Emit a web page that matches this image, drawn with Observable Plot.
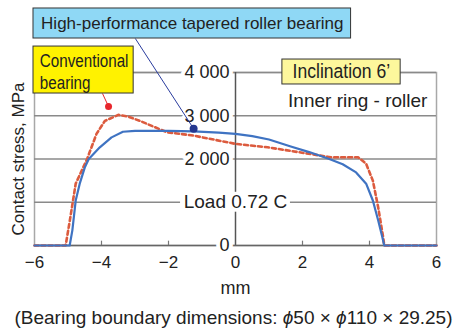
<!DOCTYPE html>
<html>
<head>
<meta charset="utf-8">
<script src="https://cdn.jsdelivr.net/npm/d3@7"></script>
<script src="https://cdn.jsdelivr.net/npm/@observablehq/plot@0.6"></script>
<style>
  html, body { margin: 0; padding: 0; background: #fff; }
  #chart { width: 455px; }
  #caption { width: 455px; height: 29px; line-height: 26px; text-align: center; white-space: nowrap;
    font-family: "Liberation Sans", Arial, sans-serif; font-size: 19px; color: #222; padding-left: 12px; box-sizing: border-box; }
</style>
</head>
<body>
<div id="chart"></div>
<div id="caption">(Bearing boundary dimensions: <i>ϕ</i>50 × <i>ϕ</i>110 × 29.25)</div>
<script>
// Series: High-performance tapered roller bearing (mm, MPa)
const hpX = [-6, -4.95, -4.87, -4.77, -4.65, -4.5, -4.38, -4.05, -3.7, -3.36, -3.0, -2.0, -1.25, -0.5, 0, 0.5, 1.0, 1.65, 2.2, 2.8, 3.2, 3.6, 3.9, 4.1, 4.26, 4.38, 4.44, 6];
const hpY = [0, 0, 350, 1040, 1430, 1800, 2000, 2270, 2500, 2630, 2650, 2650, 2640, 2610, 2580, 2530, 2450, 2290, 2160, 2000, 1880, 1690, 1430, 1040, 580, 200, 0, 0];
// Series: Conventional bearing
const cvX = [-6, -5.07, -4.93, -4.77, -4.43, -4.15, -3.9, -3.5, -3.2, -2.85, -2.05, -1.25, 0, 0.96, 1.95, 2.85, 3.66, 3.9, 4.1, 4.26, 4.41, 4.44, 6];
const cvY = [0, 0, 650, 1430, 2000, 2580, 2880, 3020, 2980, 2880, 2620, 2540, 2350, 2270, 2150, 2040, 2040, 1890, 1500, 880, 180, 0, 0];

const xTicks = [-6, -4, -2, 0, 2, 4, 6];
const minorTicks = [-4, -2, 2, 4];
const gridTicks = [1000, 2000, 3000, 4000];
// the 1 000 label is hidden behind the load label in the reference
const yTicks = [0, 2000, 3000, 4000];
const yTickLabels = ["0", "2 000", "3 000", "4 000"];

const hp = hpX.map((x, i) => ({x, y: hpY[i]}));
const cv = cvX.map((x, i) => ({x, y: cvY[i]}));
const yLab = yTicks.map((y, i) => ({y, label: yTickLabels[i]}));

// Annotations (in data units)
const blueBox = {x1: -6.03, x2: 3.45, y1: 4786, y2: 5480, cx: -1.29, cy: 5133, text: "High-performance tapered roller bearing"};
const blueLeader = {x1: -2.99, y1: 4786, x2: -1.25, y2: 2700};
const yellowBox = {x1: -6.03, x2: -3.04, y1: 3514, y2: 4600, tx: -5.84, ty: 4040, text: "Conventional\nbearing"};
const redLeader = {x1: -3.97, y1: 3514, x2: -3.79, y2: 3214};
const inclBox = {x1: 1.40, x2: 4.93, y1: 3723, y2: 4300, cx: 3.16, cy: 4010, text: "Inclination 6\u2019"};
const innerLabel = {x: 5.73, y: 3353, text: "Inner ring - roller"};
const loadBox = {x1: -1.64, x2: 1.64, y1: 770, y2: 1230, cx: 0, cy: 1000, text: "Load 0.72 C"};

const font = "'Liberation Sans', Arial, Helvetica, sans-serif";

const chart = Plot.plot({
  width: 455,
  height: 305,
  marginLeft: 34,
  marginRight: 19,
  marginTop: 72,
  marginBottom: 60,
  style: {fontFamily: font, fontSize: "15px", color: "#222", background: "white", overflow: "visible"},
  x: {domain: [-6, 6]},
  y: {domain: [0, 4000]},
  marks: [
    Plot.frame({stroke: "#a8a8a8", strokeWidth: 1.5}),
    Plot.ruleY(gridTicks, {stroke: "#8a8a8a", strokeWidth: 1.5}),
    Plot.ruleX([0], {y1: 0, y2: 4000, stroke: "#555", strokeWidth: 1.5}),
    Plot.ruleY([0], {stroke: "#666", strokeWidth: 1.5}),
    Plot.ruleX(minorTicks, {y1: 0, y2: 100, stroke: "#777", strokeWidth: 1.2}),
    Plot.axisX({ticks: xTicks, tickSize: 0, tickPadding: 10, fontSize: 17, label: null, tickFormat: d => d < 0 ? "\u2212" + Math.abs(d) : String(d)}),
    Plot.axisY({ticks: [], label: null, tickSize: 0}),
    Plot.text(yLab, {x: 0, y: "y", text: "label", textAnchor: "end", dx: -6, fontSize: 18, fill: "#222", stroke: "white", strokeWidth: 8}),
    Plot.line(cv, {x: "x", y: "y", stroke: "#dc5b3e", strokeWidth: 2.6, strokeDasharray: "4,3"}),
    Plot.line(hp, {x: "x", y: "y", stroke: "#3f73c2", strokeWidth: 2.2}),
    // Load label
    Plot.rect([loadBox], {x1: "x1", x2: "x2", y1: "y1", y2: "y2", fill: "white"}),
    Plot.text([loadBox], {x: "cx", y: "cy", text: "text", fontSize: 19, fill: "#222"}),
    // Inner ring label
    Plot.text([innerLabel], {x: "x", y: "y", text: "text", textAnchor: "end", fontSize: 19, fill: "#222"}),
    // Inclination box
    Plot.rect([inclBox], {x1: "x1", x2: "x2", y1: "y1", y2: "y2", fill: "#fdf79c", stroke: "#333", strokeWidth: 1}),
    Plot.text([inclBox], {x: "cx", y: "cy", text: "text", fontSize: 19.5, fill: "#222", className: "semicondensed"}),
    // Leaders
    Plot.link([blueLeader], {x1: "x1", y1: "y1", x2: "x2", y2: "y2", stroke: "#2a3c9e", strokeWidth: 1}),
    Plot.dot([blueLeader], {x: "x2", y: "y2", r: 4, fill: "#24378f"}),
    Plot.link([redLeader], {x1: "x1", y1: "y1", x2: "x2", y2: "y2", stroke: "#e8262c", strokeWidth: 1}),
    Plot.dot([redLeader], {x: "x2", y: "y2", r: 3.5, fill: "#e8262c"}),
    // Blue box
    Plot.rect([blueBox], {x1: "x1", x2: "x2", y1: "y1", y2: "y2", fill: "#8fd8f5", stroke: "#333", strokeWidth: 1}),
    Plot.text([blueBox], {x: "cx", y: "cy", text: "text", fontSize: 17, fill: "#222"}),
    // Yellow box
    Plot.rect([yellowBox], {x1: "x1", x2: "x2", y1: "y1", y2: "y2", fill: "#fff200", stroke: "#333", strokeWidth: 1}),
    Plot.text([yellowBox], {x: "tx", y: "ty", text: "text", textAnchor: "start", fontSize: 19, lineHeight: 1.17, fill: "#222", className: "condensed"}),
    // Axis titles
    Plot.text(["Contact stress, MPa"], {text: d => d, frameAnchor: "left", textAnchor: "middle", rotate: -90, dx: -16, fontSize: 17, fill: "#222"}),
    Plot.text(["mm"], {text: d => d, frameAnchor: "bottom", textAnchor: "middle", dy: 48, fontSize: 18, fill: "#222"})
  ]
});
// Narrower lettering for the two yellow labels, as in the reference
const squeeze = (sel, k) => d3.select(chart).selectAll(sel + " text").each(function() {
  const t = this.getAttribute("transform") || "";
  this.setAttribute("transform", t + ` scale(${k},1)`);
});
squeeze(".condensed", 0.8);
squeeze(".semicondensed", 0.9);
document.getElementById("chart").appendChild(chart);
</script>
</body>
</html>
